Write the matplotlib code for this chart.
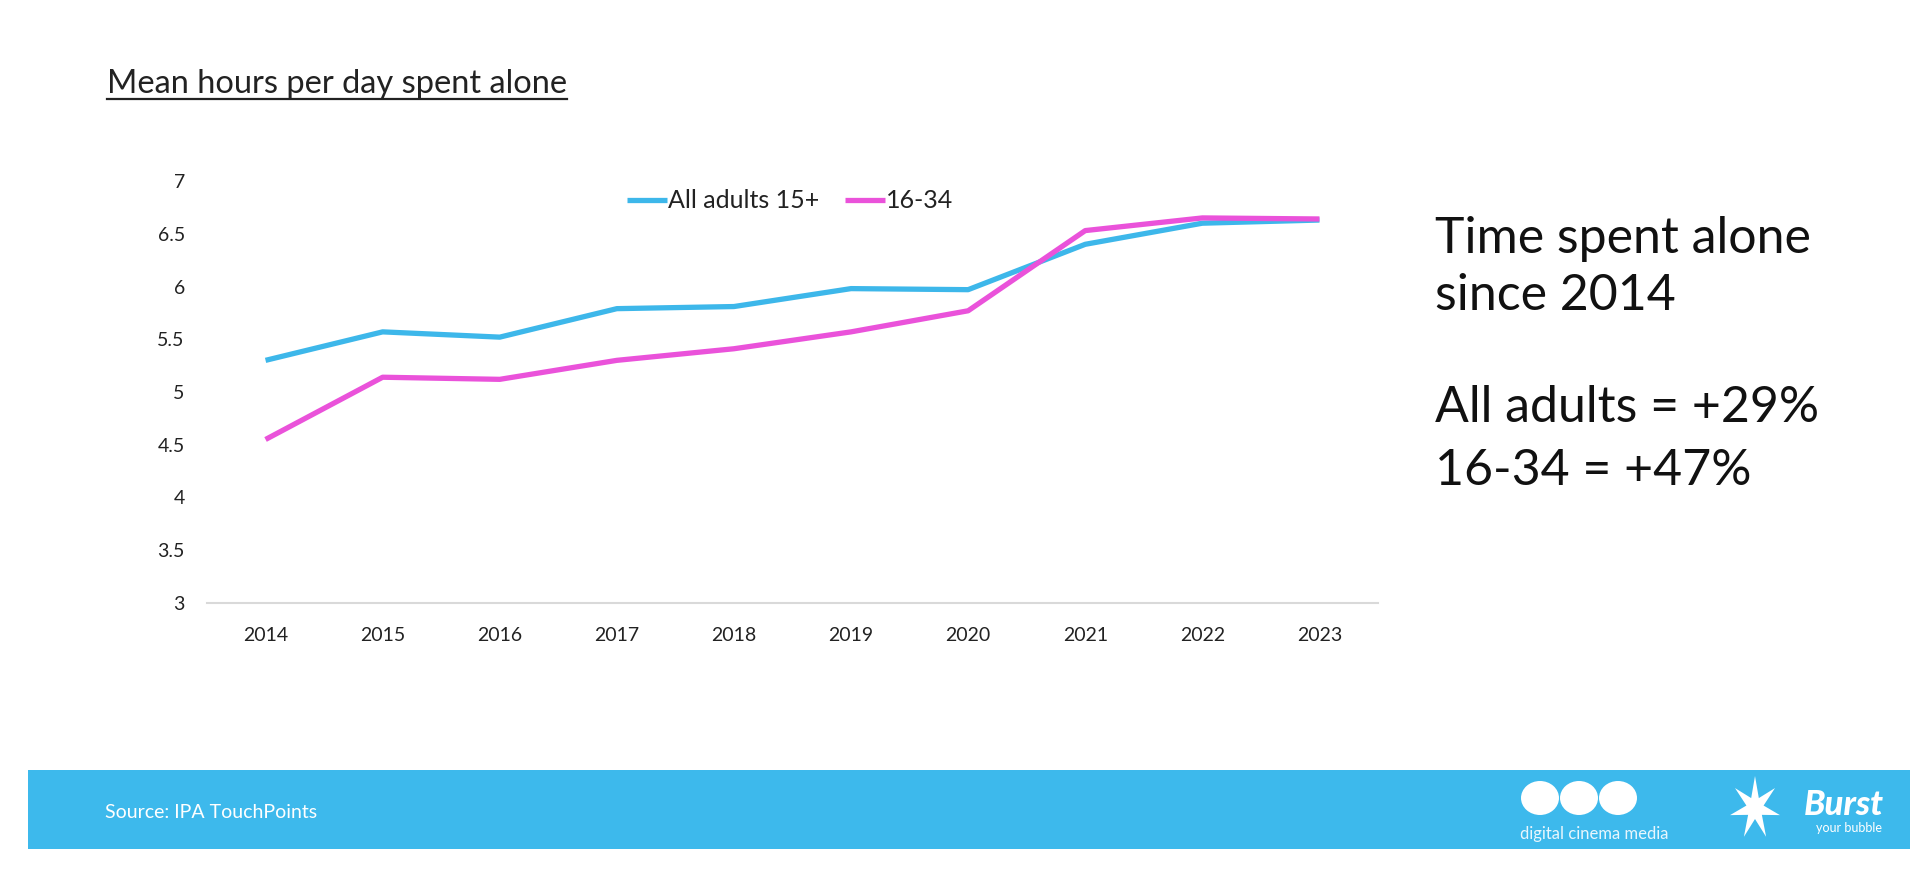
import matplotlib
matplotlib.use("Agg")
import matplotlib.pyplot as plt
from matplotlib.patches import Rectangle, Ellipse, Polygon
import numpy as np

plt.rcParams['font.family'] = ['Lato', 'DejaVu Sans']

years = ['2014', '2015', '2016', '2017', '2018', '2019', '2020', '2021', '2022', '2023']
all_adults = [5.30, 5.57, 5.52, 5.79, 5.81, 5.98, 5.97, 6.40, 6.60, 6.63]
young = [4.55, 5.14, 5.12, 5.30, 5.41, 5.57, 5.77, 6.53, 6.65, 6.64]
series_names = ['All adults 15+', '16-34']
yticks = [3, 3.5, 4, 4.5, 5, 5.5, 6, 6.5, 7]
ytick_labels = ['3', '3.5', '4', '4.5', '5', '5.5', '6', '6.5', '7']

BLUE = '#3DB7EA'
PINK = '#EA52DA'
BAND = '#3DB9EC'

W, H = 1920, 882
fig = plt.figure(figsize=(W / 100, H / 100), dpi=100)
fig.patch.set_facecolor('white')

ax = fig.add_axes([207 / W, 1 - 603 / H, (1378 - 207) / W, (603 - 181) / H])
x = list(range(len(years)))
ax.plot(x, all_adults, color=BLUE, lw=3.8, label=series_names[0], solid_capstyle='butt')
ax.plot(x, young, color=PINK, lw=3.8, label=series_names[1], solid_capstyle='butt')
ax.set_xlim(-0.5, len(years) - 0.5)
ax.set_ylim(3, 7)
ax.set_yticks(yticks)
ax.set_yticklabels(ytick_labels)
ax.set_xticks(x)
ax.set_xticklabels(years)
ax.tick_params(axis='both', length=0, labelsize=14, colors='#222222')
ax.tick_params(axis='y', pad=16)
ax.tick_params(axis='x', pad=17)
for s in ['top', 'right', 'left']:
    ax.spines[s].set_visible(False)
ax.spines['bottom'].set_color('#D9D9D9')
ax.spines['bottom'].set_linewidth(1.5)

leg = ax.legend(loc='center', bbox_to_anchor=((790 - 207) / (1378 - 207), (603 - 201) / (603 - 181)),
                ncol=2, frameon=False, fontsize=18, handlelength=1.6, handletextpad=0.05,
                columnspacing=1.0)
for t in leg.get_texts():
    t.set_color('#222222')

# Title with underline
title = fig.text(107 / W, 1 - 93 / H, 'Mean hours per day spent alone', fontsize=23.5, color='#222222',
                 ha='left', va='baseline')
fig.canvas.draw()
bb = title.get_window_extent(renderer=fig.canvas.get_renderer())
fig.add_artist(plt.Line2D([bb.x0 / W, bb.x1 / W], [1 - 99 / H, 1 - 99 / H], color='#222222', lw=1.6))

# Right annotation
for txt, yb in [('Time spent alone', 253), ('since 2014', 310),
                ('All adults = +29%', 422), ('16-34 = +47%', 485)]:
    fig.text(1435 / W, 1 - yb / H, txt, fontsize=36, color='#111111', ha='left', va='baseline')

# Footer band
fig.add_artist(Rectangle((28 / W, 1 - 849 / H), (1910 - 28) / W, (849 - 770) / H,
                         transform=fig.transFigure, facecolor=BAND, edgecolor='none'))
fig.text(105 / W, 1 - 812 / H, 'Source: IPA TouchPoints', fontsize=14, color='white',
         ha='left', va='center')

# DCM logo approximation
for cx in [1540, 1579, 1618]:
    fig.add_artist(Ellipse((cx / W, 1 - 798 / H), 38 / W, 34 / H, transform=fig.transFigure,
                           facecolor='white', edgecolor='none'))
fig.text(1520 / W, 1 - 834 / H, 'digital cinema media', fontsize=12, color='#E8F6FD',
         ha='left', va='center')

# Burst logo approximation
cx, cy, r1, r2 = 1755, 808, 32, 11
pts = []
for i in range(14):
    ang = np.pi / 2 + i * np.pi / 7
    r = r1 if i % 2 == 0 else r2
    pts.append(((cx + r * np.cos(ang) * 0.8) / W, 1 - (cy - r * np.sin(ang)) / H))
fig.add_artist(Polygon(pts, closed=True, transform=fig.transFigure, facecolor='white', edgecolor='none'))
fig.text(1884 / W, 1 - 805 / H, 'Burst', fontsize=25, color='white', fontweight='black',
         style='italic', ha='right', va='center')
fig.text(1882 / W, 1 - 828 / H, 'your bubble', fontsize=9, color='white', ha='right', va='center')

fig.savefig('out.png', dpi=100, facecolor='white')
